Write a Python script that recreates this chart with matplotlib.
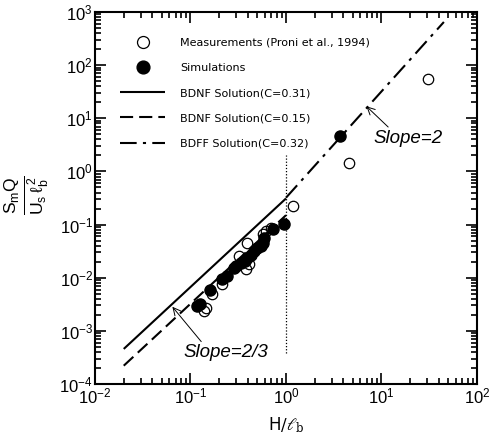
import numpy as np
import matplotlib
matplotlib.use("Agg")
import matplotlib.pyplot as plt
from matplotlib.ticker import LogLocator, NullFormatter

plt.rcParams['font.family'] = ['Liberation Sans', 'DejaVu Sans']
plt.rcParams['mathtext.default'] = 'regular'

# Measurements (Proni et al., 1994)
meas_x = [0.137, 0.144, 0.169, 0.216, 0.32, 0.38, 0.41, 0.395, 0.569, 0.616, 0.695, 1.19, 4.6, 30.5]
meas_y = [0.00238, 0.0027, 0.0050, 0.0077, 0.026, 0.0148, 0.0184, 0.0457, 0.0676, 0.077, 0.088, 0.22, 1.42, 54.0]
# Simulations
sim_x = [0.118, 0.127, 0.162, 0.216, 0.243, 0.284, 0.30, 0.336, 0.37, 0.395, 0.43, 0.46, 0.50, 0.545, 0.573, 0.586, 0.724, 0.96, 3.7]
sim_y = [0.00296, 0.0032, 0.0059, 0.0096, 0.0109, 0.0155, 0.0165, 0.0192, 0.021, 0.0238, 0.027, 0.032, 0.036, 0.040, 0.0457, 0.057, 0.084, 0.103, 4.6]

# Solution curves: coefficients and exponents
C_nf1, C_nf2, C_ff = 0.31, 0.15, 0.32
exp_nf, exp_ff = 5.0 / 3.0, 2.0
x_nf = np.logspace(np.log10(0.02), 0, 50)
x_ff = np.logspace(0, np.log10(45), 50)

fig = plt.figure(figsize=(4.96, 4.34), dpi=100)
ax = fig.add_axes([0.1915, 0.1152, 0.7702, 0.8572])
ax.set_xscale('log')
ax.set_yscale('log')
ax.set_xlim(1e-2, 1e2)
ax.set_ylim(1e-4, 1e3)

lw = 1.5
ax.plot(x_nf, C_nf1 * x_nf ** exp_nf, color='black', lw=lw, solid_capstyle='butt',
        label='BDNF Solution(C=0.31)')
l2, = ax.plot(x_nf, C_nf2 * x_nf ** exp_nf, color='black', lw=lw,
              label='BDNF Solution(C=0.15)')
l2.set_dashes([6.3, 2.9])
l3, = ax.plot(x_ff, C_ff * x_ff ** exp_ff, color='black', lw=lw,
              label='BDFF Solution(C=0.32)')
l3.set_dashes([8, 3, 1.5, 3])

ax.plot([1, 1], [3.8e-4, 2.0], color='black', lw=0.9, ls=(0, (1, 1.5)))

ax.plot(sim_x, sim_y, 'o', ms=8, mfc='black', mec='black', ls='none', label='Simulations', zorder=3)
ax.plot(meas_x, meas_y, 'o', ms=7.5, mfc='none', mec='black', mew=0.9, ls='none',
        label='Measurements (Proni et al., 1994)', zorder=4)

handles, labels = ax.get_legend_handles_labels()
order = [4, 3, 0, 1, 2]
leg = ax.legend([handles[i] for i in order], [labels[i] for i in order],
                loc='upper left', bbox_to_anchor=(0.04, 0.957), frameon=False,
                prop={'family': 'DejaVu Sans', 'size': 8},
                handlelength=4.05, handletextpad=1.35, labelspacing=1.36,
                markerscale=1.15)

# annotations
ax.annotate('Slope=2/3', xy=(0.0646, 0.00284), xytext=(0.233, 0.000385),
            fontsize=13.5, style='italic', ha='center', va='center',
            arrowprops=dict(arrowstyle='->', color='black', lw=0.7,
                            shrinkA=0, shrinkB=0, relpos=(0.24, 1.0)))
ax.annotate('Slope=2', xy=(6.95, 16.8), xytext=(18.8, 4.2),
            fontsize=13.5, style='italic', ha='center', va='center',
            arrowprops=dict(arrowstyle='->', color='black', lw=0.7,
                            shrinkA=0, shrinkB=0, relpos=(0.26, 1.0)))

# ticks
for a in (ax.xaxis, ax.yaxis):
    a.set_major_locator(LogLocator(base=10, numticks=20))
    a.set_minor_locator(LogLocator(base=10, subs=np.arange(2, 10), numticks=20))
    a.set_minor_formatter(NullFormatter())
ax.tick_params(which='both', direction='in', top=True, right=True, width=1.2, labelsize=12)
ax.tick_params(which='major', length=8, pad=1.5)
ax.tick_params(which='minor', length=4.5)
for s in ax.spines.values():
    s.set_linewidth(1.5)

ax.set_xlabel(r'$\mathrm{H}/\ell_b$', fontsize=12, family='DejaVu Serif')
ax.xaxis.set_label_coords(0.5, -0.085)
ax.set_ylabel(r'$\frac{S_m Q}{U_s\,\ell_b^{\,2}}$', fontsize=18, va='center')
ax.yaxis.set_label_coords(-0.178, 0.508)

fig.savefig('out.png', dpi=100)
